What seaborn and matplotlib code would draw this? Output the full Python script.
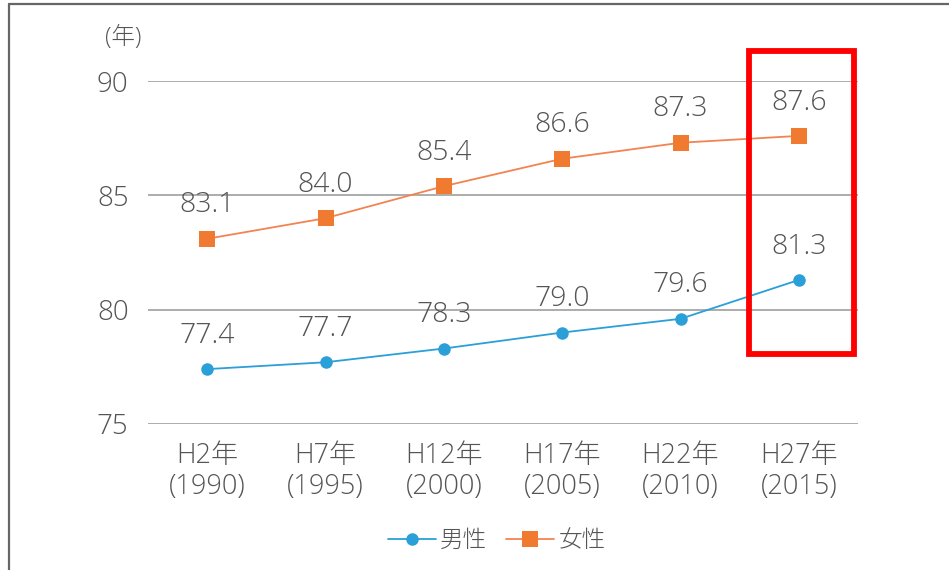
import matplotlib
matplotlib.use("Agg")
import matplotlib.pyplot as plt
import seaborn as sns
import pandas as pd
from matplotlib.patches import Rectangle
from matplotlib.lines import Line2D

categories = ["H2年\n(1990)", "H7年\n(1995)", "H12年\n(2000)", "H17年\n(2005)", "H22年\n(2010)", "H27年\n(2015)"]
male = [77.4, 77.7, 78.3, 79.0, 79.6, 81.3]
female = [83.1, 84.0, 85.4, 86.6, 87.3, 87.6]
yticks = [75, 80, 85, 90]
series_names = ["男性", "女性"]

sns.set_theme(style="white")
plt.rcParams['font.family'] = ['Open Sans', 'Noto Sans CJK JP', 'DejaVu Sans']
plt.rcParams['font.weight'] = 'light'

TXT = "#555555"
BLUE = "#2a9fd8"
ORANGE = "#f07a30"
ORANGE_LINE = "#f38350"

fig = plt.figure(figsize=(9.49, 5.70), dpi=100)
ax = fig.add_axes([148/949, 1-424/570, 710/949, (424-81)/570])

pos = list(range(len(categories)))
df_m = pd.DataFrame({"x": pos, "y": male})
df_f = pd.DataFrame({"x": pos, "y": female})

sns.lineplot(data=df_m, x="x", y="y", ax=ax, color=BLUE, lw=1.3, marker="o",
             markersize=9, markeredgewidth=0, markerfacecolor=BLUE, label=series_names[0], zorder=3)
sns.lineplot(data=df_f, x="x", y="y", ax=ax, color=ORANGE_LINE, lw=1.3, marker="s",
             markersize=11.5, markeredgewidth=0, markerfacecolor=ORANGE, label=series_names[1], zorder=3)

for xs, ys in ((pos, male), (pos, female)):
    for xi, yi in zip(xs, ys):
        ax.annotate(f"{yi:.1f}", (xi, yi), xytext=(0, 24), textcoords="offset points",
                    ha="center", va="center", fontsize=20.5, color=TXT)

ax.set_xlim(-0.5, 5.5)
ax.set_ylim(75, 90)
ax.set_yticks(yticks)
ax.set_xticks(pos)
ax.set_xticklabels(categories)
ax.tick_params(axis="x", labelsize=19.5, colors=TXT, length=0, pad=13)
ax.tick_params(axis="y", labelsize=20, colors=TXT, length=0, pad=14)
for lab in ax.get_xticklabels():
    lab.set_linespacing(1.15)
ax.set_xlabel("")
ax.set_ylabel("")
for s in ax.spines.values():
    s.set_visible(False)
ax.yaxis.grid(True, color="#a6a6a6", lw=1.3)
ax.xaxis.grid(False)
ax.set_axisbelow(True)
ax.get_legend().remove()

# red highlight box
ax.add_patch(Rectangle((4.579, 78.08), 5.466-4.579, 91.31-78.08, fill=False,
                       edgecolor="#ff0000", lw=4.2, clip_on=False, zorder=5))

fig.text(123/949, 1-38/570, "(年)", ha="center", va="center", fontsize=17, color=TXT)

handles = [Line2D([], [], color=BLUE, lw=1.3, marker="o", markersize=9, markeredgewidth=0),
           Line2D([], [], color=ORANGE_LINE, lw=1.3, marker="s", markersize=11.5,
                  markeredgewidth=0, markerfacecolor=ORANGE)]
leg = fig.legend(handles, series_names, loc="center", bbox_to_anchor=(497/949, 1-541/570),
                 ncol=2, frameon=False, fontsize=17, handlelength=2.0, handletextpad=0.2,
                 columnspacing=0.8)
for t in leg.get_texts():
    t.set_color(TXT)

# figure frame (left and top visible)
fig.add_artist(Line2D([9/949, 9/949], [0, 1-4/570], color="#666666", lw=1.6, transform=fig.transFigure))
fig.add_artist(Line2D([9/949, 1], [1-4/570, 1-4/570], color="#666666", lw=1.6, transform=fig.transFigure))

fig.savefig("out.png", dpi=100)
